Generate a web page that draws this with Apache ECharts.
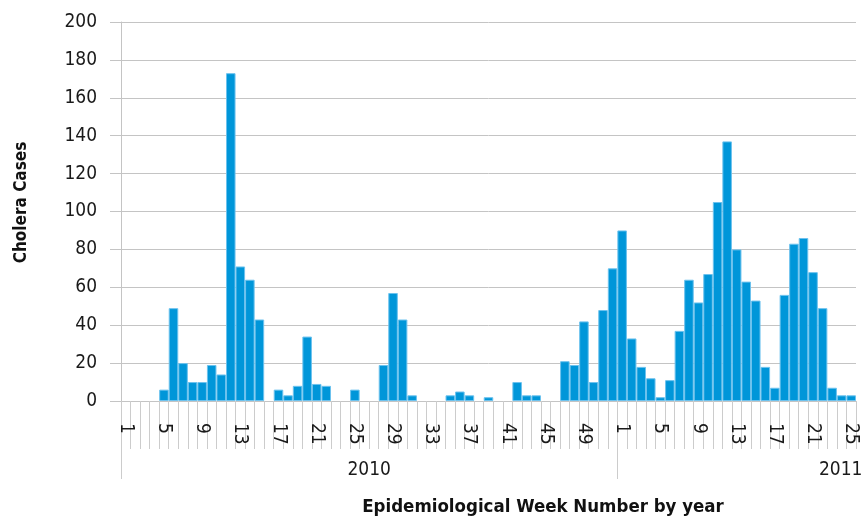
<!DOCTYPE html>
<html>
<head>
<meta charset="utf-8">
<script src="https://cdn.jsdelivr.net/npm/echarts@6/dist/echarts.min.js"></script>
<style>
html,body{margin:0;padding:0;background:#fff;}
#chart{width:866px;height:516px;}
</style>
</head>
<body>
<div id="chart"></div>
<script>
// Week numbers (categories)
const weeks2010 = Array.from({length: 52}, (_, i) => String(i + 1));
const weeks2011 = Array.from({length: 25}, (_, i) => String(i + 1));
// Cholera cases per epidemiological week
const cases2010 = [0, 0, 0, 0, 6, 49, 20, 10, 10, 19, 14, 173, 71, 64, 43, 0,
  6, 3, 8, 34, 9, 8, 0, 0, 6, 0, 0, 19, 57, 43, 3, 0, 0, 0, 3, 5, 3, 0, 2, 0,
  0, 10, 3, 3, 0, 0, 21, 19, 42, 10, 48, 70];
const cases2011 = [90, 33, 18, 12, 2, 11, 37, 64, 52, 67, 105, 137, 80, 63, 53,
  18, 7, 56, 83, 86, 68, 49, 7, 3, 3];
// Axis ticks
const yTicks = [0, 20, 40, 60, 80, 100, 120, 140, 160, 180, 200];
const years = ['2010', '2011'];
const yearLabelPos = [26, 75.4];

const categories = weeks2010.concat(weeks2011);
const values = cases2010.concat(cases2011);
const FONT = '"DejaVu Sans Condensed", "Liberation Sans Narrow", "Liberation Sans", sans-serif';

const barData = values.map(v => v === 0 ? {value: v, itemStyle: {borderWidth: 0}} : v);

const chart = echarts.init(document.getElementById('chart'), null, {renderer: 'canvas'});
chart.setOption({
  animation: false,
  backgroundColor: '#ffffff',
  grid: {left: 121, top: 22, right: 10, bottom: 115, containLabel: false},
  xAxis: [{
    type: 'category',
    data: categories,
    boundaryGap: true,
    axisLine: {show: true, lineStyle: {color: '#c4c4c4', width: 1}},
    axisTick: {show: true, interval: 0, length: 48, lineStyle: {color: '#cccccc', width: 1}},
    axisLabel: {interval: 3, rotate: -90, margin: 22, fontFamily: FONT, fontSize: 19, color: '#1a1a1a'},
    splitLine: {show: false}
  }, {
    type: 'value',
    min: 0,
    max: categories.length,
    position: 'bottom',
    axisLine: {show: false},
    splitLine: {show: false},
    axisTick: {show: true, customValues: [0, weeks2010.length], length: 78, lineStyle: {color: '#cccccc', width: 1}},
    axisLabel: {
      customValues: yearLabelPos,
      margin: 60,
      fontFamily: FONT, fontSize: 19, color: '#1a1a1a',
      formatter: function (v) { return years[yearLabelPos.indexOf(v)] || ''; }
    }
  }],
  yAxis: {
    type: 'value',
    min: yTicks[0],
    max: yTicks[yTicks.length - 1],
    interval: yTicks[1] - yTicks[0],
    name: 'Cholera Cases',
    nameLocation: 'middle',
    nameGap: 91,
    nameRotate: 90,
    nameTextStyle: {fontFamily: FONT, fontSize: 17, fontWeight: 'bold', color: '#111', padding: [0, 0, 0, 18]},
    axisLine: {show: true, lineStyle: {color: '#c4c4c4', width: 1}},
    axisTick: {show: true, length: 11, lineStyle: {color: '#c4c4c4'}},
    axisLabel: {margin: 24, fontFamily: FONT, fontSize: 19, color: '#1a1a1a'},
    splitLine: {show: true, lineStyle: {color: '#c4c4c4', width: 1}}
  },
  graphic: [{
    type: 'text',
    x: 543, y: 507,
    style: {
      text: 'Epidemiological Week Number by year',
      fontFamily: FONT, fontSize: 18.5, fontWeight: 'bold', fill: '#111',
      textAlign: 'center', textVerticalAlign: 'middle'
    }
  }],
  series: [{
    type: 'bar',
    data: barData,
    barCategoryGap: 0,
    itemStyle: {color: '#0096d9', borderColor: '#6cc2ee', borderWidth: 1}
  }]
});
</script>
</body>
</html>
